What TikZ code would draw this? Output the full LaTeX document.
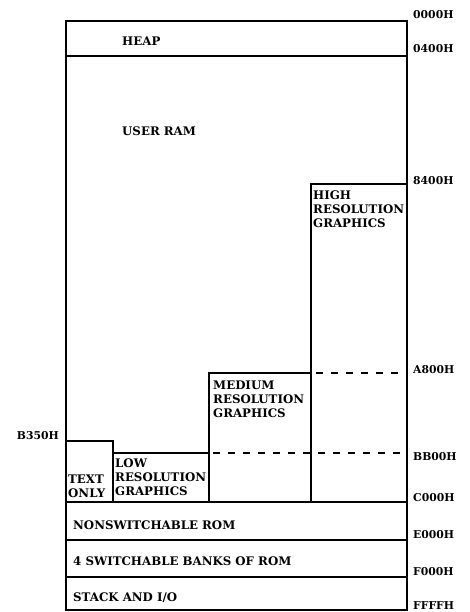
\documentclass[tikz,border=0pt]{standalone}
\usepackage{fontspec}
\setmainfont{DejaVu Serif}
\usetikzlibrary{positioning}
\tikzset{
  wall/.style={draw, line width=1.1pt},
  split/.style={draw, line width=1.1pt, dash pattern=on 7pt off 8pt},
  areatext/.style={font=\fontsize{11.8}{14}\selectfont\bfseries, inner sep=0pt, align=left},
  addr/.style={font=\fontsize{10.8}{12}\selectfont\bfseries, inner sep=0pt, anchor=west}
}
\begin{document}
\begin{tikzpicture}[x=1pt, y=-1pt]
  \useasboundingbox (0,0) rectangle (470,612);
  % outer frame and horizontal boundaries
  \draw[wall] (66,21) rectangle (407,610);
  \draw[wall] (66,56) -- (407,56);
  \draw[wall] (66,502) -- (407,502);
  \draw[wall] (66,540) -- (407,540);
  \draw[wall] (66,577) -- (407,577);
  % graphics pages
  \draw[wall] (311,502) -- (311,184) -- (407,184);
  \draw[wall] (209,502) -- (209,373) -- (311,373);
  \draw[wall] (113,502) -- (113,453) -- (209,453);
  \draw[wall] (66,441) -- (113,441) -- (113,453);
  \draw[split] (316,373) -- (400,373);
  \draw[split] (213,453) -- (400,453);

  % region names
  \node[areatext, anchor=west] (heap) at (122,41) {HEAP};
  \node[areatext, anchor=west] (user) at (122,131) {USER RAM};
  \node[areatext, anchor=north west] (hires) at (313,191) {HIGH\\RESOLUTION\\GRAPHICS};
  \node[areatext, anchor=north west] (medres) at (213,381) {MEDIUM\\RESOLUTION\\GRAPHICS};
  \node[areatext, anchor=north west] (lores) at (115,459) {LOW\\RESOLUTION\\GRAPHICS};
  \node[areatext, anchor=south west] (text) at (68,498) {TEXT\\ONLY};
  \node[areatext, anchor=west] (fixrom) at (73,525) {NONSWITCHABLE ROM};
  \node[areatext, anchor=west] (banks) at (73,561) {4 SWITCHABLE BANKS OF ROM};
  \node[areatext, anchor=west] (stack) at (73,598) {STACK AND I/O};

  % addresses
  \node[addr] (a0000) at (413,15) {0000H};
  \node[addr] (a0400) at (413,49) {0400H};
  \node[addr] (a8400) at (413,181) {8400H};
  \node[addr] (aA800) at (413,370) {A800H};
  \node[addr] (aBB00) at (413,457) {BB00H};
  \node[addr] (aC000) at (413,498) {C000H};
  \node[addr] (aE000) at (413,535) {E000H};
  \node[addr] (aF000) at (413,572) {F000H};
  \node[addr] (aFFFF) at (413,606) {FFFFH};
  \node[addr, anchor=east] (aB350) at (59,436) {B350H};
\end{tikzpicture}
\end{document}
